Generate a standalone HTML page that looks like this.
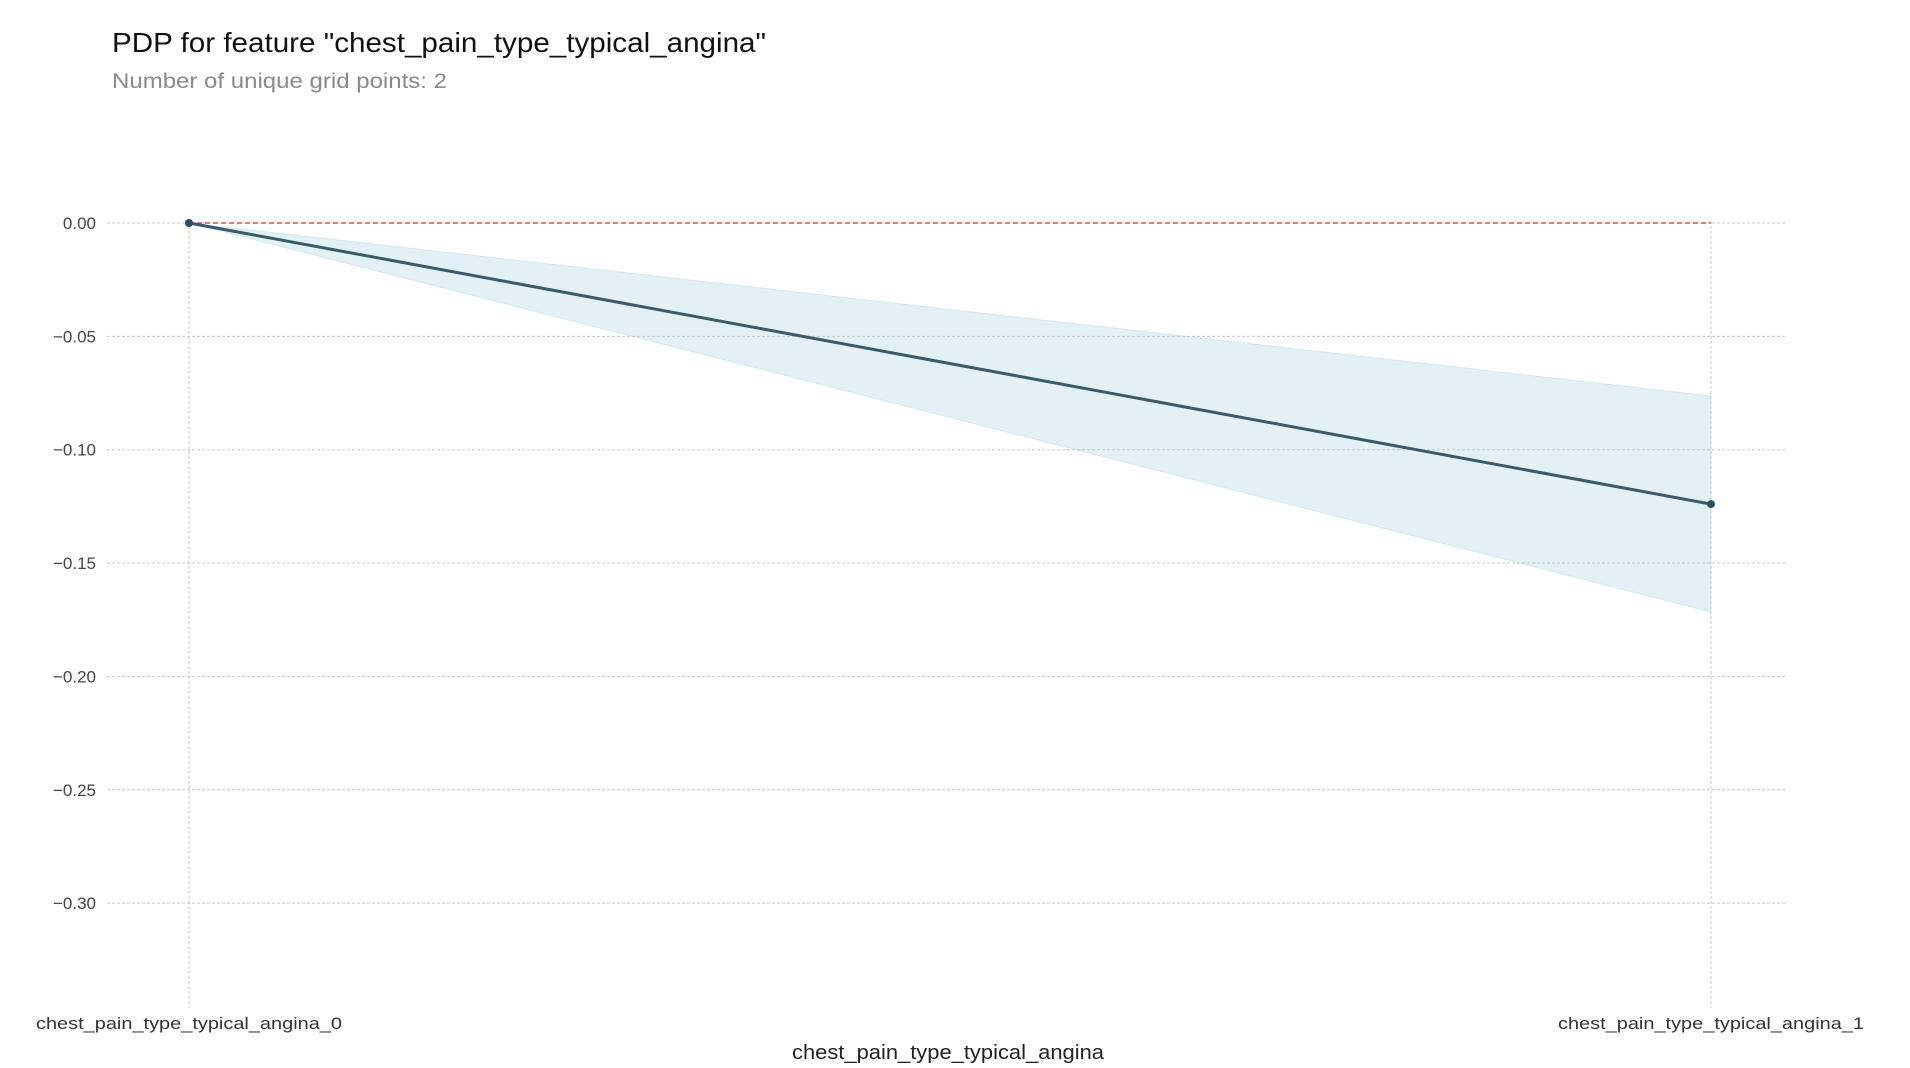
<!DOCTYPE html>
<html><head><meta charset="utf-8"><style>
body{margin:0;background:#fff;}
svg{display:block;font-family:"Liberation Sans",Arial,sans-serif;}
</style></head><body>
<svg id="chart" width="1910" height="1068" viewBox="0 0 1910 1068">
<text x="112" y="52" font-size="28" fill="#111" textLength="654" lengthAdjust="spacingAndGlyphs">PDP for feature "chest_pain_type_typical_angina"</text>
<text x="112" y="88" font-size="21" fill="#8a8a8a" textLength="335" lengthAdjust="spacingAndGlyphs">Number of unique grid points: 2</text>
<g id="grid"></g>
<g id="marks"></g>
<text x="948" y="1059" font-size="20" fill="#222" text-anchor="middle" textLength="312" lengthAdjust="spacingAndGlyphs">chest_pain_type_typical_angina</text>
</svg>
<script>
const categories = ["chest_pain_type_typical_angina_0", "chest_pain_type_typical_angina_1"];
const pdpValues = [0, -0.124];
const upperValues = [0, -0.0763];
const lowerValues = [0, -0.1716];
const yTicks = [0, -0.05, -0.10, -0.15, -0.20, -0.25, -0.30];
const yTickLabels = ["0.00", "\u22120.05", "\u22120.10", "\u22120.15", "\u22120.20", "\u22120.25", "\u22120.30"];

const NS = "http://www.w3.org/2000/svg";
const X0 = 189, X1 = 1711, Y0 = 223, PXPER = 2267;
function xs(i){ return X0 + (X1 - X0) * i / (categories.length - 1); }
function ys(v){ return Y0 - v * PXPER; }
function mk(tag, attrs, parent){ const e = document.createElementNS(NS, tag); for (const k in attrs) e.setAttribute(k, attrs[k]); parent.appendChild(e); return e; }
const grid = document.getElementById("grid"), marks = document.getElementById("marks");

yTicks.forEach((t, i) => {
  const y = ys(t);
  const l = mk("line", {x1:107, x2:1786, y1:y, y2:y, stroke:"#c8c8c8", "stroke-width":1, "stroke-dasharray":"3,2"}, grid);
  
  
  const tx = mk("text", {x:96, y:y + 6, "font-size":17, fill:"#444", "text-anchor":"end"}, grid);
  tx.textContent = yTickLabels[i];
  
  
});
categories.forEach((c, i) => {
  const x = xs(i);
  const l = mk("line", {x1:x, x2:x, y1:Y0 - 2, y2:1008, stroke:"#c8c8c8", "stroke-width":1, "stroke-dasharray":"3,2"}, grid);
  
  
  const tx = mk("text", {x:x, y:1029, "font-size":17, fill:"#333", "text-anchor":"middle", textLength:306, lengthAdjust:"spacingAndGlyphs"}, grid);
  tx.textContent = c;
  
  
});

let pts = upperValues.map((v, i) => xs(i) + "," + ys(v));
for (let i = lowerValues.length - 1; i >= 0; i--) pts.push(xs(i) + "," + ys(lowerValues[i]));
const band = mk("polygon", {points:pts.join(" "), fill:"#a9d5e2", "fill-opacity":0.32, stroke:"#a9d5e2", "stroke-opacity":0.4}, marks);



const ref = mk("line", {x1:xs(0), x2:xs(categories.length - 1), y1:ys(0), y2:ys(0), stroke:"#e0503c", "stroke-width":1.5, "stroke-dasharray":"5,3"}, marks);



const line = mk("polyline", {points:pdpValues.map((v, i) => xs(i) + "," + ys(v)).join(" "), fill:"none", stroke:"#3b5a6a", "stroke-width":3}, marks);


pdpValues.forEach((v, i) => {
  const p = mk("circle", {cx:xs(i), cy:ys(v), r:4, fill:"#2f4f5f"}, marks);
  
  
});
</script>
</body></html>
